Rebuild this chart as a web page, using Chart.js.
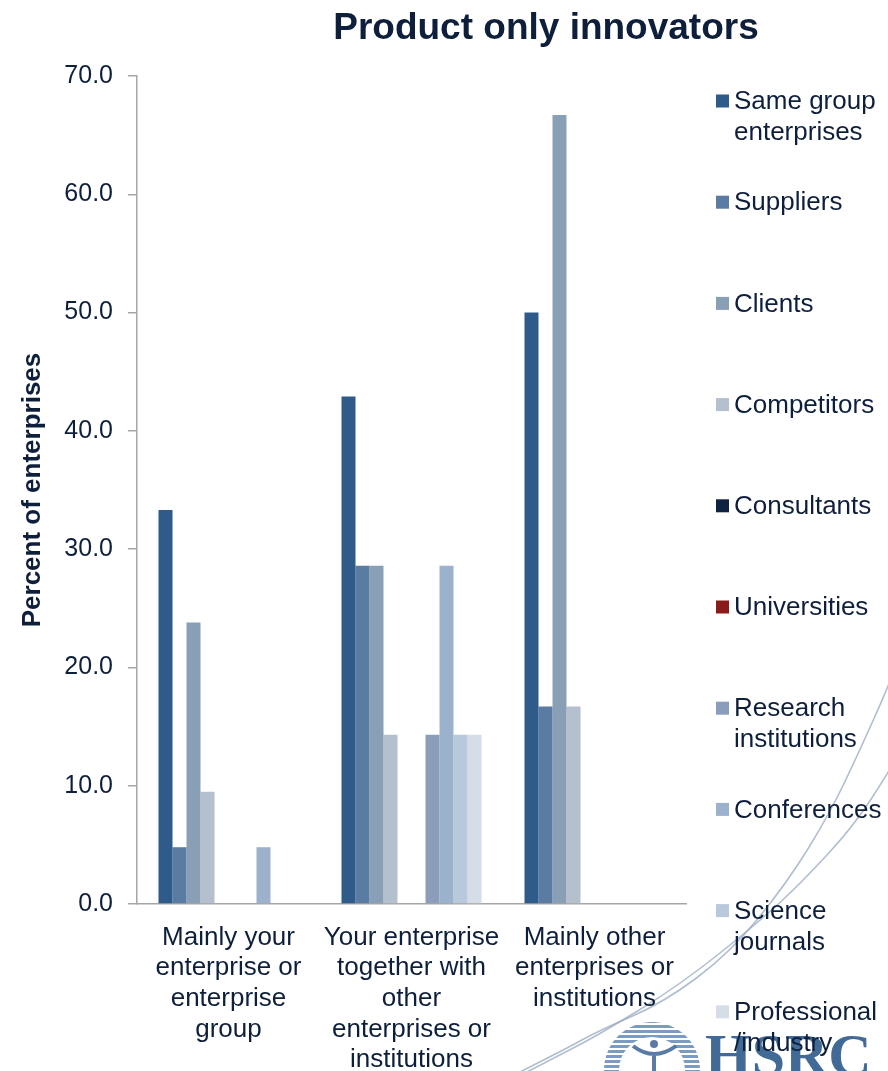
<!DOCTYPE html>
<html>
<head>
<meta charset="utf-8">
<script src="https://cdn.jsdelivr.net/npm/chart.js@4/dist/chart.umd.min.js"></script>
<style>
  html, body { margin: 0; padding: 0; background: #fff; }
  canvas { display: block; }
</style>
</head>
<body>
<canvas id="product-chart" width="888" height="1071"></canvas>
<script>
// Product only innovators - who developed the product innovations
var categories = [
    ['Mainly your', 'enterprise or', 'enterprise', 'group'],
    ['Your enterprise', 'together with', 'other', 'enterprises or', 'institutions'],
    ['Mainly other', 'enterprises or', 'institutions']
];

var seriesNames = [
    ['Same group', 'enterprises'],
    ['Suppliers'],
    ['Clients'],
    ['Competitors'],
    ['Consultants'],
    ['Universities'],
    ['Research', 'institutions'],
    ['Conferences'],
    ['Science', 'journals'],
    ['Professional', '/industry']
];

var seriesColors = ['#2e5b8a', '#5a7ca3', '#899fb6', '#b4c0cd', '#0f2341',
                    '#8b1a1a', '#8b9dba', '#9cb1cc', '#b8c9dc', '#d4dde8'];

// percent of enterprises, one value per category
var sameGroup    = [33.3, 42.9, 50.0];
var suppliers    = [4.8, 28.6, 16.7];
var clients      = [23.8, 28.6, 66.7];
var competitors  = [9.5, 14.3, 16.7];
var consultants  = [0, 0, 0];
var universities = [0, 0, 0];
var research     = [0, 14.3, 0];
var conferences  = [4.8, 28.6, 0];
var science      = [0, 14.3, 0];
var professional = [0, 14.3, 0];

var seriesValues = [sameGroup, suppliers, clients, competitors, consultants,
                    universities, research, conferences, science, professional];

var yTicks = [0, 10, 20, 30, 40, 50, 60, 70];

var FONT = '"Liberation Sans", Arial, sans-serif';
var TEXT = '#0e1f3b';
var AXIS = '#a6a6a6';

// faint HSRC watermark behind the chart
var watermark = {
    id: 'watermark',
    beforeDraw: function (chart) {
        var c = chart.ctx;
        c.save();
        c.fillStyle = '#ffffff';
        c.fillRect(0, 0, chart.width, chart.height);

        var arcs = [
            [[500, 1082], [560, 1052], [600, 1030], [663, 1003], [730, 953], [787, 883], [830, 813], [860, 750], [888, 687], [900, 655]],
            [[500, 1086], [560, 1055], [600, 1034], [680, 985], [760, 921], [800, 884], [853, 827], [888, 773], [900, 752]]
        ];
        c.strokeStyle = 'rgba(150, 168, 192, 0.75)';
        c.lineWidth = 1.6;
        arcs.forEach(function (pts) {
            c.beginPath();
            c.moveTo(pts[0][0], pts[0][1]);
            for (var i = 1; i < pts.length - 1; i++) {
                var mx = (pts[i][0] + pts[i + 1][0]) / 2;
                var my = (pts[i][1] + pts[i + 1][1]) / 2;
                c.quadraticCurveTo(pts[i][0], pts[i][1], mx, my);
            }
            var last = pts[pts.length - 1];
            c.lineTo(last[0], last[1]);
            c.stroke();
        });

        // striped emblem
        c.save();
        c.beginPath();
        c.arc(652, 1070, 48, 0, Math.PI * 2);
        c.arc(652, 1070, 33, 0, Math.PI * 2, true);
        c.clip();
        c.fillStyle = 'rgba(80, 122, 172, 0.75)';
        for (var y = 1020; y < 1071; y += 5) {
            c.fillRect(600, y, 110, 3);
        }
        c.restore();

        c.strokeStyle = 'rgba(60, 100, 150, 0.85)';
        c.fillStyle = 'rgba(60, 100, 150, 0.85)';
        c.lineWidth = 4;
        c.beginPath();
        c.arc(654, 1044, 4, 0, Math.PI * 2);
        c.fill();
        c.beginPath();
        c.moveTo(633, 1046);
        c.quadraticCurveTo(654, 1062, 676, 1046);
        c.moveTo(654, 1054);
        c.lineTo(654, 1071);
        c.stroke();

        c.font = 'bold 60px "Liberation Serif", "Times New Roman", serif';
        c.fillStyle = 'rgba(44, 90, 140, 0.9)';
        c.textAlign = 'left';
        c.textBaseline = 'alphabetic';
        c.fillText('HSRC', 705, 1075);
        c.restore();
    }
};

// title and the legend on the right
var decorations = {
    id: 'decorations',
    afterDraw: function (chart) {
        var c = chart.ctx;
        c.save();
        c.fillStyle = TEXT;
        c.textAlign = 'center';
        c.textBaseline = 'middle';
        c.font = 'bold 37px ' + FONT;
        c.fillText('Product only innovators', 546, 29);

        c.font = '26px ' + FONT;
        c.textAlign = 'left';
        seriesNames.forEach(function (lines, i) {
            var y = 101 + i * 101.2;
            c.fillStyle = seriesColors[i];
            c.fillRect(716, y - 6.5, 13, 13);
            c.fillStyle = TEXT;
            lines.forEach(function (line, j) {
                c.fillText(line, 734, y + 1 + j * 31);
            });
        });
        c.restore();
    }
};

var ctx = document.getElementById('product-chart');

var chart = new Chart(ctx, {
    type: 'bar',

    data: {
        labels: categories,
        datasets: seriesValues.map(function (values, i) {
            return {
                label: seriesNames[i].join(' '),
                data: values,
                backgroundColor: seriesColors[i],
                borderWidth: 0,
                categoryPercentage: 0.765,
                barPercentage: 1.0
            };
        })
    },

    options: {
        responsive: false,
        devicePixelRatio: 1,
        animation: false,
        layout: {
            padding: { top: 76, right: 202, bottom: 0, left: 0 }
        },
        plugins: {
            legend: { display: false },
            title: { display: false },
            tooltip: { enabled: false }
        },
        scales: {
            x: {
                grid: { display: false, drawTicks: false },
                border: { display: true, color: AXIS, width: 1.5 },
                ticks: {
                    color: TEXT,
                    font: { family: FONT, size: 26, lineHeight: 1.18 },
                    padding: 18,
                    maxRotation: 0,
                    autoSkip: false
                },
                afterFit: function (scale) { scale.height = 167; }
            },
            y: {
                min: 0,
                max: 70,
                afterBuildTicks: function (scale) {
                    scale.ticks = yTicks.map(function (v) { return { value: v }; });
                },
                grid: {
                    drawOnChartArea: false,
                    drawTicks: true,
                    tickLength: 9,
                    color: AXIS,
                    lineWidth: 1.5
                },
                border: { display: true, color: AXIS, width: 1.5 },
                ticks: {
                    color: TEXT,
                    font: { family: FONT, size: 25 },
                    padding: 15,
                    callback: function (v) { return Number(v).toFixed(1); }
                },
                title: {
                    display: true,
                    text: 'Percent of enterprises',
                    color: TEXT,
                    font: { family: FONT, size: 26, weight: 'bold' },
                    padding: { top: 17, bottom: 0 }
                },
                afterFit: function (scale) { scale.width = 137; }
            }
        }
    },

    plugins: [watermark, decorations]
});
</script>
</body>
</html>
